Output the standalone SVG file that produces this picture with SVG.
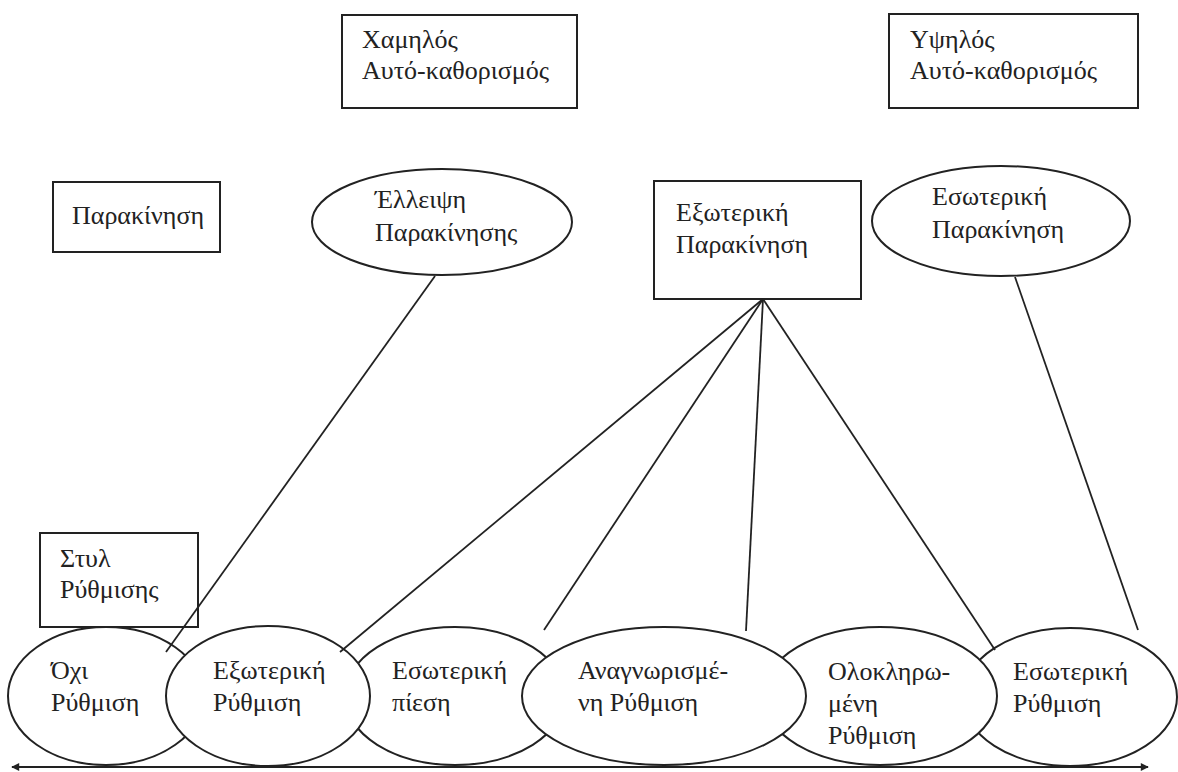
<svg xmlns="http://www.w3.org/2000/svg" width="1178" height="772" viewBox="0 0 1178 772">
<defs>
<style>
text{font-family:"Liberation Serif","DejaVu Serif","Times New Roman",serif;font-size:26px;fill:#222;}
.box{fill:none;stroke:#222;stroke-width:2;}
.ell{fill:#fff;stroke:#222;stroke-width:2;}
.tell{fill:none;stroke:#222;stroke-width:2;}
.con{stroke:#222;stroke-width:1.8;fill:none;}
</style>
<marker id="ah" viewBox="0 0 10 10" refX="9" refY="5" markerWidth="10" markerHeight="8" markerUnits="userSpaceOnUse" orient="auto-start-reverse">
<path d="M0,0 L10,5 L0,10 z" fill="#222"/>
</marker>
</defs>
<rect width="1178" height="772" fill="#fff"/>

<g id="low-self">
<rect class="box" x="342" y="15" width="235" height="93"/>
<text x="362" y="48">Χαμηλός</text>
<text x="362" y="79">Αυτό-καθορισμός</text>
</g>
<g id="high-self">
<rect class="box" x="889" y="14" width="249" height="94"/>
<text x="910" y="48">Υψηλός</text>
<text x="910" y="79">Αυτό-καθορισμός</text>
</g>
<g id="motivation">
<rect class="box" x="53" y="182" width="167" height="70"/>
<text x="72" y="224">Παρακίνηση</text>
</g>
<g id="amotivation">
<ellipse class="tell" cx="442" cy="222" rx="130" ry="53"/>
<text x="375" y="208">Έλλειψη</text>
<text x="375" y="241">Παρακίνησης</text>
</g>
<g id="extrinsic-motivation">
<rect class="box" x="654" y="181" width="207" height="118"/>
<text x="676" y="221">Εξωτερική</text>
<text x="676" y="253">Παρακίνηση</text>
</g>
<g id="intrinsic-motivation">
<ellipse class="tell" cx="1001" cy="221" rx="129" ry="55"/>
<text x="932" y="205">Εσωτερική</text>
<text x="932" y="238">Παρακίνηση</text>
</g>

<g id="no-regulation">
<ellipse class="ell" cx="106" cy="696" rx="98" ry="69"/>
<text x="51" y="679">Όχι</text>
<text x="51" y="711">Ρύθμιση</text>
</g>
<g id="introjected">
<ellipse class="ell" cx="455" cy="696" rx="110" ry="69"/>
<text x="392" y="679">Εσωτερική</text>
<text x="392" y="711">πίεση</text>
</g>
<g id="external-regulation">
<ellipse class="ell" cx="268" cy="696" rx="102" ry="70"/>
<text x="213" y="679">Εξωτερική</text>
<text x="213" y="711">Ρύθμιση</text>
</g>
<g id="intrinsic-regulation">
<ellipse class="ell" cx="1070" cy="697" rx="107" ry="69"/>
<text x="1013" y="680">Εσωτερική</text>
<text x="1013" y="712">Ρύθμιση</text>
</g>
<g id="integrated">
<ellipse class="ell" cx="880" cy="696" rx="117" ry="69"/>
<text x="828" y="680">Ολοκληρω-</text>
<text x="828" y="712">μένη</text>
<text x="828" y="744">Ρύθμιση</text>
</g>
<g id="identified">
<ellipse class="ell" cx="664" cy="696" rx="142" ry="69"/>
<text x="578" y="679">Αναγνωρισμέ-</text>
<text x="578" y="711">νη Ρύθμιση</text>
</g>

<g id="style-reg">
<rect class="box" x="40" y="533" width="158" height="94"/>
<text x="60" y="567">Στυλ</text>
<text x="60" y="598">Ρύθμισης</text>
</g>

<g id="connectors">
<line class="con" x1="435" y1="276" x2="166" y2="652"/>
<line class="con" x1="763" y1="299" x2="340" y2="652"/>
<line class="con" x1="763" y1="299" x2="544" y2="630"/>
<line class="con" x1="763" y1="299" x2="746" y2="631"/>
<line class="con" x1="763" y1="299" x2="995" y2="650"/>
<line class="con" x1="1015" y1="277" x2="1138" y2="630"/>
<line class="con" stroke-width="3" x1="12" y1="767" x2="1148" y2="767" marker-start="url(#ah)" marker-end="url(#ah)"/>
</g>
</svg>
